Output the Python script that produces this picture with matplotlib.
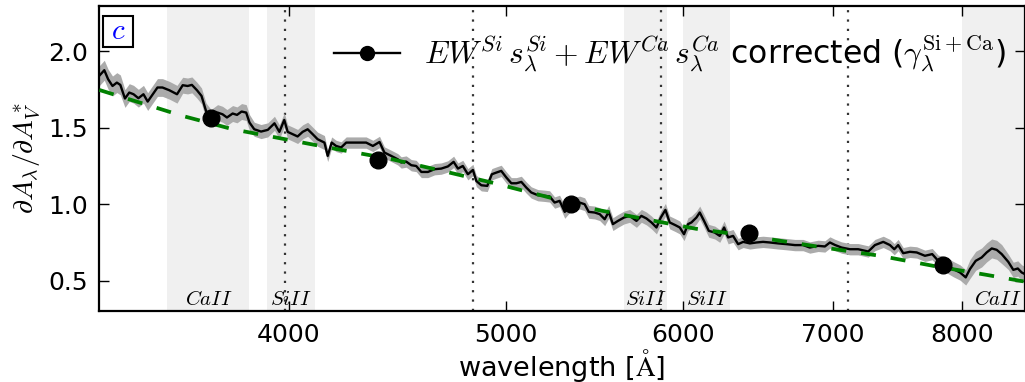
# -*- coding: utf-8 -*-
import numpy as np
import matplotlib
matplotlib.use('Agg')
import matplotlib.pyplot as plt
from matplotlib.lines import Line2D
from matplotlib.patches import Rectangle
from matplotlib.ticker import FixedLocator, NullLocator, FormatStrFormatter

plt.rcParams['mathtext.fontset'] = 'cm'
plt.rcParams['font.family'] = ['DejaVu Sans']
plt.rcParams['xtick.direction'] = 'in'
plt.rcParams['ytick.direction'] = 'in'
plt.rcParams['xtick.top'] = True
plt.rcParams['ytick.right'] = True

# measured curve (wavelength in A, dA_lambda / dA_V*)
wave = [3290, 3308, 3321, 3336, 3351, 3363, 3379, 3394, 3409, 3426, 3444, 3459, 3473, 3494,
        3512, 3537, 3565, 3586, 3604, 3620, 3639, 3656, 3673, 3692, 3717, 3736, 3753, 3775,
        3792, 3810, 3828, 3841, 3860, 3887, 3914, 3941, 3961, 3981, 3995, 4016, 4036, 4057,
        4078, 4099, 4120, 4149, 4163, 4180, 4199, 4221, 4243, 4265, 4301, 4331, 4361, 4391,
        4413, 4444, 4474, 4490, 4513, 4537, 4560, 4584, 4615, 4647, 4679, 4711, 4739, 4760,
        4784, 4809, 4834, 4851, 4876, 4906, 4929, 4952, 4977, 5003, 5029, 5055, 5081, 5107,
        5133, 5168, 5204, 5231, 5258, 5285, 5313, 5349, 5395, 5423, 5446, 5479, 5508, 5536,
        5559, 5583, 5612, 5647, 5680, 5720, 5749, 5779, 5809, 5839, 5865, 5893, 5919, 5954,
        5981, 6007, 6032, 6053, 6084, 6105, 6132, 6162, 6200, 6232, 6260, 6286, 6318, 6351,
        6384, 6428, 6472, 6516, 6562, 6618, 6675, 6733, 6790, 6837, 6896, 6944, 6980, 7016,
        7064, 7125, 7186, 7261, 7311, 7374, 7425, 7458, 7488, 7527, 7579, 7632, 7697, 7755,
        7803, 7858, 7925, 7980, 8027, 8062, 8110, 8160, 8202, 8245, 8287, 8330, 8387, 8430,
        8469, 8503, 8532]
ratio = [1.839, 1.877, 1.818, 1.774, 1.796, 1.781, 1.692, 1.731, 1.720, 1.694, 1.720, 1.672,
         1.709, 1.764, 1.764, 1.746, 1.720, 1.779, 1.774, 1.781, 1.746, 1.709, 1.611, 1.568,
         1.600, 1.589, 1.568, 1.594, 1.585, 1.607, 1.600, 1.535, 1.491, 1.476, 1.487, 1.530,
         1.474, 1.552, 1.474, 1.459, 1.444, 1.474, 1.491, 1.459, 1.426, 1.404, 1.317, 1.404,
         1.382, 1.372, 1.404, 1.404, 1.404, 1.404, 1.382, 1.408, 1.339, 1.317, 1.295, 1.274,
         1.280, 1.256, 1.251, 1.212, 1.212, 1.230, 1.234, 1.248, 1.278, 1.234, 1.251, 1.197,
         1.225, 1.153, 1.125, 1.121, 1.197, 1.208, 1.219, 1.176, 1.138, 1.138, 1.147, 1.110,
         1.078, 1.060, 1.056, 1.052, 1.012, 1.023, 0.951, 1.001, 1.012, 1.001, 0.951, 0.947,
         0.936, 0.903, 0.951, 0.871, 0.892, 0.914, 0.925, 0.892, 0.925, 0.908, 0.882, 0.849,
         0.914, 0.964, 0.882, 0.864, 0.849, 0.805, 0.871, 0.882, 0.914, 0.947, 0.892, 0.827,
         0.816, 0.794, 0.849, 0.784, 0.794, 0.740, 0.755, 0.745, 0.751, 0.755, 0.751, 0.745,
         0.740, 0.734, 0.734, 0.718, 0.729, 0.725, 0.751, 0.735, 0.718, 0.707, 0.707, 0.692,
         0.734, 0.755, 0.734, 0.707, 0.734, 0.681, 0.690, 0.686, 0.664, 0.675, 0.631, 0.609,
         0.577, 0.555, 0.523, 0.577, 0.631, 0.653, 0.686, 0.712, 0.703, 0.675, 0.624, 0.572,
         0.581, 0.555, 0.544]
err = [0.065] * 6 + [0.058] * 11 + [0.052] * 15 + [0.046] * 14 + [0.037] * 44 + \
      [0.042] * 35 + [0.037] * 30 + [0.05] * 4 + [0.062] * 7 + [0.05] * 5

# broadband points
dot_wave = [3692, 4383, 5349, 6421, 7844]
dot_ratio = [1.564, 1.292, 1.005, 0.816, 0.603]

# reference extinction law (green dashed)
law_wave = [3291, 3586, 3776, 3981, 4203, 4448, 4671, 4928, 5196, 5474, 5775, 6080,
            6258, 6606, 6973, 7349, 7765, 8196, 8532]
law_ratio = [1.748, 1.578, 1.491, 1.427, 1.361, 1.295, 1.223, 1.143, 1.056, 0.969, 0.903,
             0.841, 0.816, 0.766, 0.713, 0.664, 0.598, 0.540, 0.495]

# feature windows and labels
band_lo = [3530, 3910, 5645, 6000, 8000]
band_hi = [3840, 4110, 5905, 6300, 8600]
band_name = ['CaII', 'SiII', 'SiII', 'SiII', 'CaII']
vlines = [3985, 4834, 5865, 7113]

xticks = [4000, 5000, 6000, 7000, 8000]
yticks = [0.5, 1.0, 1.5, 2.0]

fig = plt.figure(figsize=(10.25, 3.82), dpi=100)
ax = fig.add_axes([0.0966, 0.1846, 0.9034, 0.801])
ax.set_xscale('log')

for lo, hi, name in zip(band_lo, band_hi, band_name):
    ax.axvspan(lo, hi, color='0.94', lw=0, zorder=0)
    ax.text(np.sqrt(lo * hi), 0.345, '$' + name + '$', ha='center', va='baseline',
            fontsize=15, zorder=1)

for v in vlines:
    ax.axvline(v, color='0.2', lw=1.6, ls=(0, (1, 3.2)), zorder=1)

w = np.array(wave)
r = np.array(ratio)
e = np.array(err)
ax.fill_between(w, r - e, r + e, color='0.67', lw=0, zorder=2)
ax.plot(w, r, color='k', lw=1.7, zorder=3)
ax.plot(law_wave, law_ratio, color='green', lw=2.7, dashes=(4, 4), zorder=4)
ax.plot(dot_wave, dot_ratio, 'o', color='k', ms=12, zorder=5)

ax.set_xlim(3290, 8532)
ax.set_ylim(0.3, 2.3)
ax.xaxis.set_major_locator(FixedLocator(xticks))
ax.xaxis.set_major_formatter(FormatStrFormatter('%d'))
ax.xaxis.set_minor_locator(NullLocator())
ax.yaxis.set_major_locator(FixedLocator(yticks))
ax.yaxis.set_major_formatter(FormatStrFormatter('%1.1f'))
ax.tick_params(which='major', length=7, width=1, labelsize=18, pad=8)
for sp in ax.spines.values():
    sp.set_linewidth(1.6)

ax.set_xlabel(r'wavelength [$\mathrm{\AA}$]', fontsize=19.5, labelpad=0)
ax.set_ylabel(r'$\partial A_\lambda/\partial A_V^*$', fontsize=20, labelpad=4)

# panel tag
ax.add_patch(Rectangle((0.0043, 0.864), 0.0324, 0.101, transform=ax.transAxes,
                       facecolor='white', edgecolor='black', lw=1.5, zorder=6))
ax.text(0.0205, 0.918, '$c$', transform=ax.transAxes, color='blue', fontsize=21,
        ha='center', va='center', zorder=7)

proxy = Line2D([], [], color='k', lw=1.7, marker='o', ms=10)
label = (r'$EW^{Si}\,s_\lambda^{Si}+EW^{Ca}\,s_\lambda^{Ca}$ corrected '
         r'($\gamma_\lambda^{\rm Si+Ca}$)')
ax.legend([proxy], [label], loc='center right', bbox_to_anchor=(0.98, 0.842),
          frameon=False, fontsize=22.7, handlelength=2.1, handletextpad=0.78,
          borderaxespad=0, borderpad=0)

plt.savefig('out.png', dpi=100)
